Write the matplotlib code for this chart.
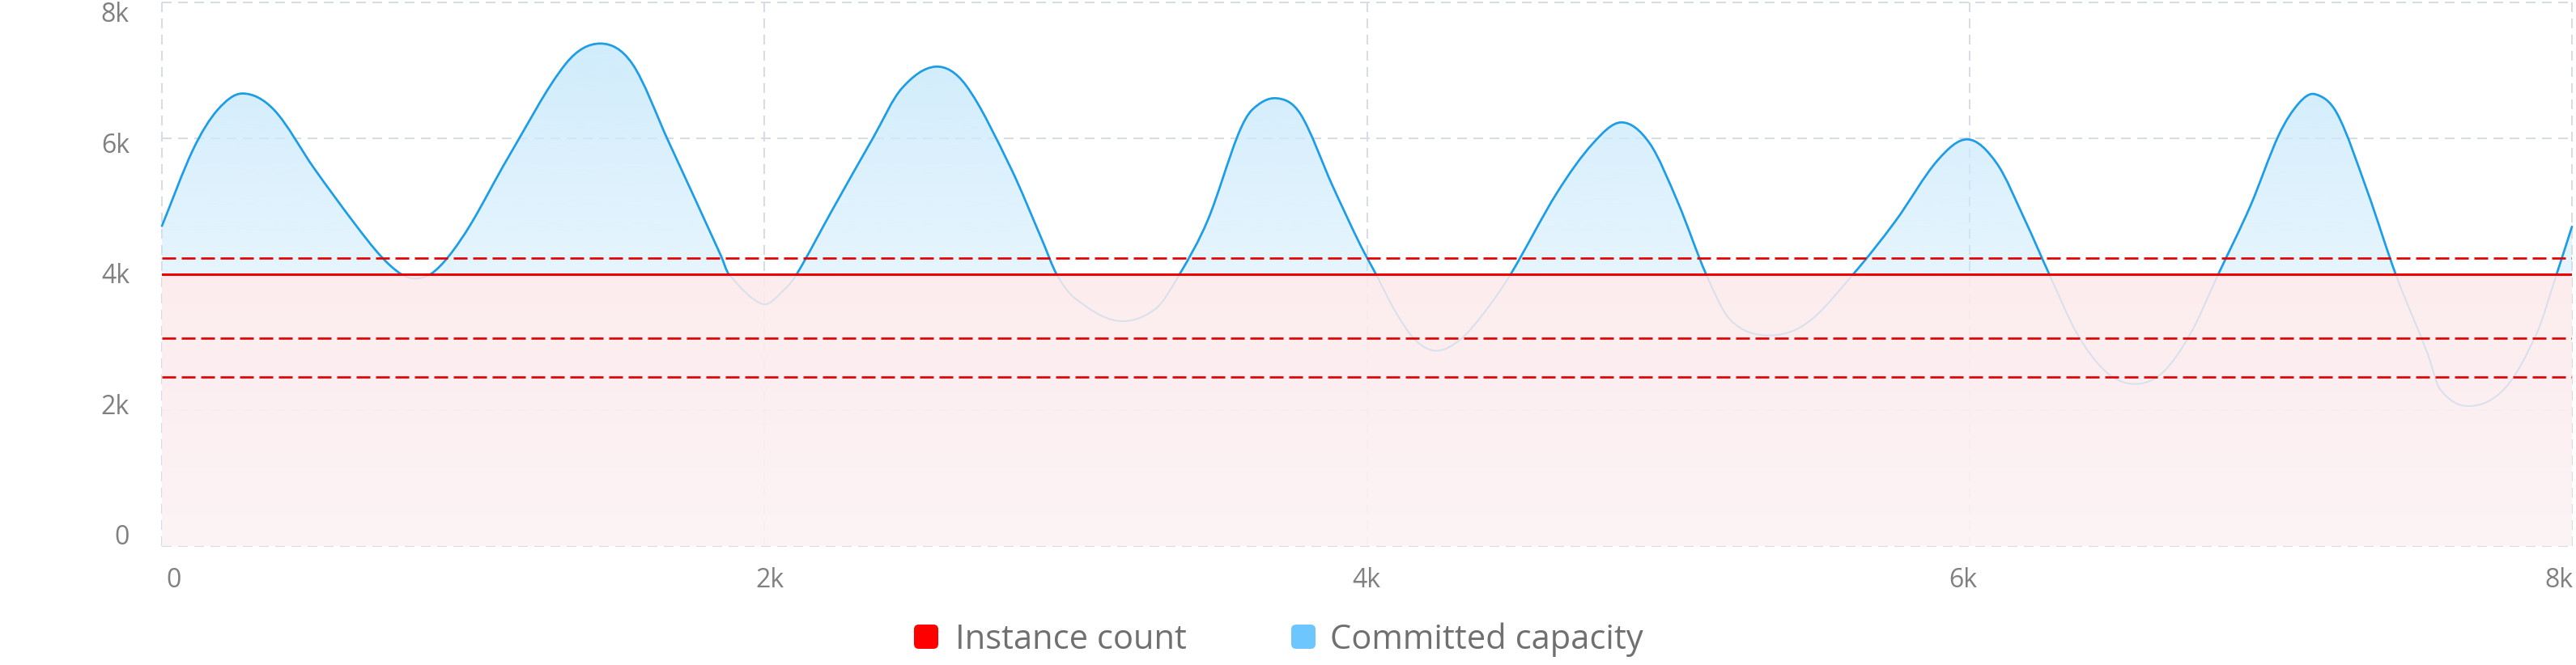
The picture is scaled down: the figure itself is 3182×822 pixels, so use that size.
import numpy as np
import matplotlib
matplotlib.use("Agg")
import matplotlib.pyplot as plt
from matplotlib.path import Path
from matplotlib.patches import PathPatch, Rectangle, FancyBboxPatch
from matplotlib.transforms import blended_transform_factory, IdentityTransform

# committed capacity (x, value)
cap_x = [0, 104, 185, 267, 372, 505, 639, 726, 793, 840,
         893, 953, 1027, 1147, 1341, 1455, 1561, 1682, 1856, 1882,
         1996, 2067, 2107, 2227, 2361, 2455, 2569, 2669, 2816, 2923,
         2970, 3030, 3171, 3298, 3378, 3472, 3572, 3619, 3699, 3779,
         3886, 3976, 4030, 4096, 4163, 4233, 4310, 4390, 4477, 4631,
         4751, 4845, 4938, 5032, 5126, 5206, 5326, 5460, 5614, 5754,
         5895, 5995, 6091, 6185, 6265, 6358, 6452, 6545, 6639, 6733,
         6826, 6933, 7027, 7094, 7147, 7221, 7321, 7415, 7521, 7562,
         7655, 7775, 7882, 7949, 8000]
cap_y = [4710, 5840, 6420, 6660, 6420, 5560, 4750, 4270, 4005, 3937,
         4005, 4270, 4750, 5700, 7100, 7395, 7100, 5950, 4270, 4000,
         3560, 3780, 4000, 4960, 6010, 6730, 7055, 6780, 5580, 4490,
         4000, 3650, 3315, 3490, 4000, 4800, 6050, 6420, 6590, 6360,
         5300, 4450, 4000, 3440, 3020, 2875, 3040, 3440, 4000, 5200,
         5930, 6235, 5930, 5060, 4000, 3330, 3100, 3280, 4000, 4780,
         5680, 5985, 5630, 4790, 4000, 3120, 2570, 2385, 2545, 3120,
         4000, 5010, 6050, 6520, 6650, 6360, 5220, 4000, 2830, 2310,
         2060, 2310, 3120, 4000, 4700]

instance_count = 4000
mark_levels = [4240, 3060, 2490]

x_ticks = [0, 2000, 4000, 6000, 8000]
y_ticks = [0, 2000, 4000, 6000, 8000]
tick_labels = ["0", "2k", "4k", "6k", "8k"]

legend_names = ["Instance count", "Committed capacity"]
legend_colors = ["#ff0000", "#6ec6ff"]

plt.rcParams["lines.scale_dashes"] = False
FONT = "Open Sans"
W, H = 3182, 822
PX = 0.72  # points per pixel at dpi 100


def smooth_path(xs, ys):
    # cubic hermite through the read points, written as bezier segments
    x = np.asarray(xs, float)
    y = np.asarray(ys, float)
    n = len(x)
    m = np.empty(n)
    m[1:-1] = (y[2:] - y[:-2]) / (x[2:] - x[:-2])
    m[0] = (y[1] - y[0]) / (x[1] - x[0])
    m[-1] = (y[-1] - y[-2]) / (x[-1] - x[-2])
    verts = [(x[0], y[0])]
    codes = [Path.MOVETO]
    for i in range(n - 1):
        h = x[i + 1] - x[i]
        verts += [(x[i] + h / 3, y[i] + m[i] * h / 3),
                  (x[i + 1] - h / 3, y[i + 1] - m[i + 1] * h / 3),
                  (x[i + 1], y[i + 1])]
        codes += [Path.CURVE4] * 3
    return verts, codes


fig = plt.figure(figsize=(W / 100, H / 100), dpi=100)
ax = fig.add_axes([200 / W, 147 / H, 2977 / W, 672 / H])
ax.set_xlim(0, 8000)
ax.set_ylim(0, 8000)
ax.axis("off")

# dashed grid box
grid_kw = dict(color="#d6dbe6", lw=2 * PX, dashes=(12 * PX, 8 * PX), zorder=0.5, clip_on=False)
for t in y_ticks:
    ax.axhline(t, **grid_kw)
for t in x_ticks:
    ax.axvline(t, **grid_kw)

verts, codes = smooth_path(cap_x, cap_y)
line_path = Path(verts, codes)
area_path = Path(verts + [(cap_x[-1], 0), (cap_x[0], 0), (cap_x[0], 0)],
                 codes + [Path.LINETO, Path.LINETO, Path.CLOSEPOLY])

# blue gradient under the capacity curve (only above the instance line)
vals = np.linspace(instance_count, 8000, 256)
blue = np.zeros((256, 1, 4))
blue[:, 0, 0] = 205 / 255
blue[:, 0, 1] = 235 / 255
blue[:, 0, 2] = 252 / 255
blue[:, 0, 3] = vals / 8000
img = ax.imshow(blue, extent=[0, 8000, instance_count, 8000], origin="lower",
                aspect="auto", zorder=1, interpolation="bilinear")
img.set_clip_path(area_path, transform=ax.transData)

# pink area for instance count
frac = np.linspace(0, 1, 256)[:, None]
top = np.array([252, 234, 237]) / 255
bot = np.array([253, 243, 244]) / 255
pink = np.zeros((256, 1, 4))
pink[:, 0, :3] = bot + (top - bot) * frac
pink[:, 0, 3] = 0.9
ax.imshow(pink, extent=[0, 8000, 0, instance_count], origin="lower",
          aspect="auto", zorder=2, interpolation="bilinear")

# capacity line: pale below the instance line, blue above it
ax.add_patch(PathPatch(line_path, fill=False, edgecolor="#d8e0eb", lw=2 * PX, zorder=3))
blue_line = PathPatch(line_path, fill=False, edgecolor="#1c9de8", lw=2.7 * PX, zorder=4,
                      capstyle="round", joinstyle="round")
ax.add_patch(blue_line)
clip_rect = Rectangle((-200, instance_count), 8400, 5000, transform=ax.transData)
blue_line.set_clip_path(clip_rect)

# instance count and its mark lines
ax.axhline(instance_count, color="#ee0000", lw=3 * PX, zorder=5)
for lv in mark_levels:
    ax.axhline(lv, color="#e50000", lw=2.7 * PX, dashes=(17 * PX, 7 * PX), zorder=5)

# tick labels
tick_kw = dict(fontsize=23, color="#808080", family=FONT)
ytr = blended_transform_factory(ax.transAxes, ax.transData)
for t, lab in zip(y_ticks, tick_labels):
    ax.text(-40 / 2977, 24 + 0.961 * t, lab, transform=ytr, ha="right", va="baseline", **tick_kw)
xtr = blended_transform_factory(ax.transData, ax.transAxes)
for t, lab in zip(x_ticks, tick_labels):
    ax.text(40 + 0.9896 * t, -51 / 672, lab, transform=xtr, ha="center", va="baseline", **tick_kw)

# legend
sq_x = [1129, 1595]
txt_x = [1180, 1643]
for name, col, sx, tx in zip(legend_names, legend_colors, sq_x, txt_x):
    box = FancyBboxPatch((sx, 20), 30, 30, boxstyle="round,pad=0,rounding_size=6",
                         facecolor=col, edgecolor="none", transform=IdentityTransform())
    fig.add_artist(box)
    fig.text(tx / W, 20 / H, name, ha="left", va="baseline", fontsize=30,
             color="#707070", family=FONT)

fig.savefig("out.png", dpi=100)
